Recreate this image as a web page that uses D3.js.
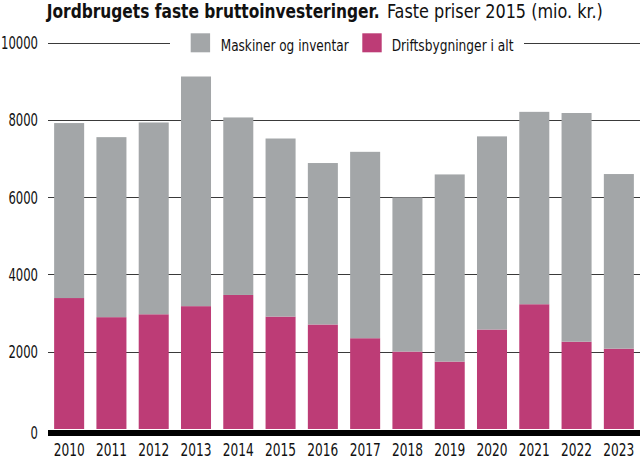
<!DOCTYPE html>
<html>
<head>
<meta charset="utf-8">
<script src="https://cdn.jsdelivr.net/npm/d3@7"></script>
<style>
  html, body { margin: 0; padding: 0; background: #fff; }
  svg { display: block; }
  text { font-family: "Liberation Sans Narrow", "DejaVu Sans Condensed", "Roboto Condensed", sans-serif; fill: #111; }
</style>
</head>
<body>
<svg id="chart" width="640" height="460"></svg>
<script>
const years = ["2010","2011","2012","2013","2014","2015","2016","2017","2018","2019","2020","2021","2022","2023"];
const driftsbygninger = [3390, 2895, 2970, 3180, 3470, 2910, 2705, 2350, 2005, 1745, 2575, 3230, 2260, 2080];
const maskiner = [4530, 4660, 4965, 5945, 4595, 4610, 4180, 4825, 3990, 4845, 5000, 4980, 5920, 4520];
const yTicks = [0, 2000, 4000, 6000, 8000, 10000];
const seriesNames = ["Maskiner og inventar", "Driftsbygninger i alt"];
const seriesColors = ["#a3a6a8", "#bd3c76"];
const titleBold = "Jordbrugets faste bruttoinvesteringer.";
const titleRegular = "Faste priser 2015 (mio. kr.)";

const svg = d3.select("#chart");
const FONT = '"Liberation Sans Narrow", "DejaVu Sans Condensed", sans-serif';

// horizontally squeeze a text element to a target width, anchored at its x
function fitWidth(node, target) {
  const w = node.getComputedTextLength();
  if (!w) return;
  const s = target / w;
  const ax = +node.getAttribute("x") || 0;
  const prev = node.getAttribute("transform") || "";
  node.setAttribute("transform", `${prev} translate(${ax},0) scale(${s},1) translate(${-ax},0)`);
}

const x = d3.scaleBand().domain(years).range([48, 640]).paddingInner(0.29).paddingOuter(0.145);
const y = d3.scaleLinear().domain([0, 10000]).range([429, 42.7]);

// gridlines + y labels
const yAxis = d3.axisLeft(y).tickValues(yTicks).tickSize(-592).tickPadding(10).tickFormat(d3.format("d"));
const gy = svg.append("g").attr("transform", "translate(48,0)").call(yAxis);
gy.select(".domain").remove();
gy.selectAll(".tick line").attr("stroke", "#3a3a3a").attr("stroke-width", 1).attr("shape-rendering", "crispEdges");
gy.selectAll(".tick text").attr("font-size", 17).attr("fill", "#111")
  .style("font-family", FONT)
  .attr("dy", d => d === 0 ? "0.55em" : "0.34em")
  .each(function(d) { fitWidth(this, String(d).length * 7.4); });
gy.selectAll(".tick").filter(d => d === 0).select("line").remove();

// stacked bars: driftsbygninger at bottom, maskiner on top
const data = years.map((yr, i) => ({ year: yr, drift: driftsbygninger[i], mask: maskiner[i] }));
const stacked = d3.stack().keys(["drift", "mask"])(data);
const colorFor = { drift: seriesColors[1], mask: seriesColors[0] };
svg.append("g").selectAll("g").data(stacked).join("g")
  .attr("fill", s => colorFor[s.key])
  .selectAll("rect").data(s => s).join("rect")
  .attr("x", d => x(d.data.year))
  .attr("width", x.bandwidth())
  .attr("y", d => y(d[1]))
  .attr("height", d => y(d[0]) - y(d[1]));

// x axis: thick black baseline
const xAxis = d3.axisBottom(x).tickSize(0).tickPadding(8);
const gx = svg.append("g").attr("transform", "translate(0,436)").call(xAxis);
gx.select(".domain").remove();
gx.selectAll(".tick text").attr("font-size", 17).attr("fill", "#111")
  .style("font-family", FONT)
  .each(function() { fitWidth(this, 31); });
svg.append("line").attr("x1", 48).attr("x2", 640).attr("y1", 433).attr("y2", 433)
  .attr("stroke", "#000").attr("stroke-width", 6);

// legend (covers the top gridline)
svg.append("rect").attr("x", 170).attr("y", 30).attr("width", 354).attr("height", 26).attr("fill", "#fff");
const legendItems = [
  { name: seriesNames[0], color: seriesColors[0], sx: 190.7, tx: 220.7, tw: 128 },
  { name: seriesNames[1], color: seriesColors[1], sx: 362.3, tx: 391.7, tw: 122 }
];
const lg = svg.append("g");
legendItems.forEach(it => {
  lg.append("rect").attr("x", it.sx).attr("y", 33.3).attr("width", 19.4).attr("height", 19).attr("fill", it.color);
  const t = lg.append("text").attr("x", it.tx).attr("y", 51).attr("font-size", 15).text(it.name);
  fitWidth(t.node(), it.tw);
});

// title
const t1 = svg.append("text").attr("x", 46.7).attr("y", 18).attr("font-size", 19).attr("font-weight", "bold").text(titleBold);
fitWidth(t1.node(), 333);
const t2 = svg.append("text").attr("x", 387).attr("y", 18).attr("font-size", 19).text(titleRegular);
fitWidth(t2.node(), 216);
</script>
</body>
</html>
